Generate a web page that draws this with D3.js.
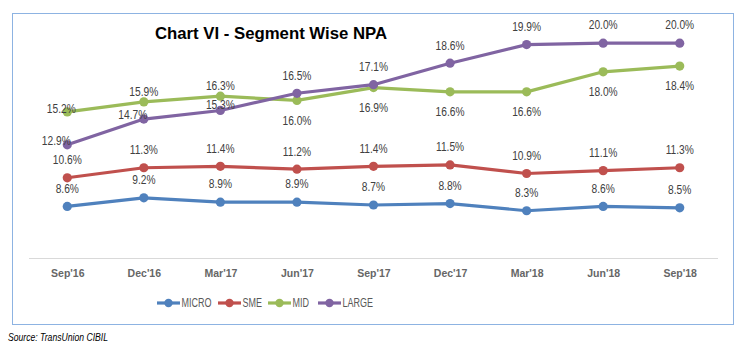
<!DOCTYPE html>
<html><head><meta charset="utf-8">
<script src="https://cdn.jsdelivr.net/npm/d3@7"></script>
<style>html,body{margin:0;padding:0;background:#fff;}svg{display:block;}</style>
</head><body>
<svg id="c" width="747" height="351"></svg>
<script>
const categories = ["Sep'16","Dec'16","Mar'17","Jun'17","Sep'17","Dec'17","Mar'18","Jun'18","Sep'18"];
const micro = [8.6, 9.2, 8.9, 8.9, 8.7, 8.8, 8.3, 8.6, 8.5];
const sme   = [10.6, 11.3, 11.4, 11.2, 11.4, 11.5, 10.9, 11.1, 11.3];
const mid   = [15.2, 15.9, 16.3, 16.0, 16.9, 16.6, 16.6, 18.0, 18.4];
const large = [12.9, 14.7, 15.3, 16.5, 17.1, 18.6, 19.9, 20.0, 20.0];
const seriesNames = ["MICRO","SME","MID","LARGE"];
// label placement codes: a=above, b=below, n=near above, l/m=left, o=over marker
const microPlace = ["a","a","a","a","a","a","a","a","a"];
const smePlace   = ["a","a","a","a","a","a","a","a","a"];
const midPlace   = ["m","n","n","b","b","b","b","b","b"];
const largePlace = ["l","l","o","a","a","a","a","a","a"];

const colors = ["#4F81BD","#C0504D","#9BBB59","#8064A2"];
const seriesVals = [micro, sme, mid, large];
const seriesPlace = [microPlace, smePlace, midPlace, largePlace];
const placeOff = {a:[0,-18], b:[0,20], n:[0,-10], l:[-11,-4], m:[-6,-3], o:[0,-6]};

const svg = d3.select("#c");
function squeeze(sel, f){ sel.each(function(){ const w=this.getComputedTextLength(); d3.select(this).attr("textLength", w*f).attr("lengthAdjust","spacingAndGlyphs"); }); }

svg.append("rect").attr("x",12.5).attr("y",13.5).attr("width",721).attr("height",311)
  .attr("fill","#fff").attr("stroke","#8DB3E2").attr("stroke-width",1);

const x = d3.scalePoint().domain(categories).range([29,718]).padding(0.5);
const y = d3.scaleLinear().domain([5,22]).range([258,14.5]);

svg.append("line").attr("x1",29).attr("x2",718).attr("y1",258.5).attr("y2",258.5)
  .attr("stroke","#D9D9D9").attr("stroke-width",1);

const xa = svg.append("g").attr("transform","translate(0,258)")
  .call(d3.axisBottom(x).tickSize(0).tickPadding(0));
xa.select(".domain").remove();
xa.selectAll("text").attr("y",19).attr("dy",0).attr("font-family","Liberation Sans, Arial, sans-serif")
  .attr("font-size","10.5px").attr("font-weight","bold").attr("fill","#666666");

svg.append("text").attr("x",271).attr("y",39).attr("text-anchor","middle")
  .attr("font-family","Liberation Sans, Arial, sans-serif").attr("font-size","17px")
  .attr("font-weight","bold").attr("fill","#000").text("Chart VI - Segment Wise NPA")
  .call(squeeze, 0.985);

const line = d3.line().x((d,i)=>x(categories[i])).y(d=>y(d));
seriesVals.forEach((vals,si)=>{
  const g = svg.append("g");
  g.append("path").datum(vals).attr("d",line).attr("fill","none")
    .attr("stroke",colors[si]).attr("stroke-width",3.2).attr("stroke-linejoin","round");
  g.selectAll("circle").data(vals).join("circle")
    .attr("cx",(d,i)=>x(categories[i])).attr("cy",d=>y(d)).attr("r",4.6).attr("fill",colors[si]);
});
seriesVals.forEach((vals,si)=>{
  svg.append("g").selectAll("text").data(vals).join("text")
    .attr("x",(d,i)=>x(categories[i])+placeOff[seriesPlace[si][i]][0])
    .attr("y",(d,i)=>y(d)+placeOff[seriesPlace[si][i]][1])
    .attr("dy","0.36em").attr("text-anchor","middle")
    .attr("font-family","Liberation Sans, Arial, sans-serif").attr("font-size","12px")
    .attr("fill","#404040").text(d=>d.toFixed(1)+"%").call(squeeze, 0.85);
});

// legend
const legX = [157,218,268,318];
seriesNames.forEach((n,i)=>{
  const g = svg.append("g").attr("transform",`translate(${legX[i]},303)`);
  g.append("line").attr("x1",0).attr("x2",23).attr("y1",0).attr("y2",0)
    .attr("stroke",colors[i]).attr("stroke-width",3.2);
  g.append("circle").attr("cx",11.5).attr("cy",0).attr("r",4.2).attr("fill",colors[i]);
  g.append("text").attr("x",24.5).attr("y",0).attr("dy","0.36em")
    .attr("font-family","Liberation Sans, Arial, sans-serif").attr("font-size","12px")
    .attr("fill","#595959").text(n).call(squeeze, 0.75);
});

svg.append("text").attr("x",8).attr("y",341).attr("font-family","Liberation Sans, Arial, sans-serif")
  .attr("font-size","11.5px").attr("font-style","italic").attr("fill","#000")
  .text("Source: TransUnion CIBIL").call(squeeze, 0.75);
</script>
</body></html>
